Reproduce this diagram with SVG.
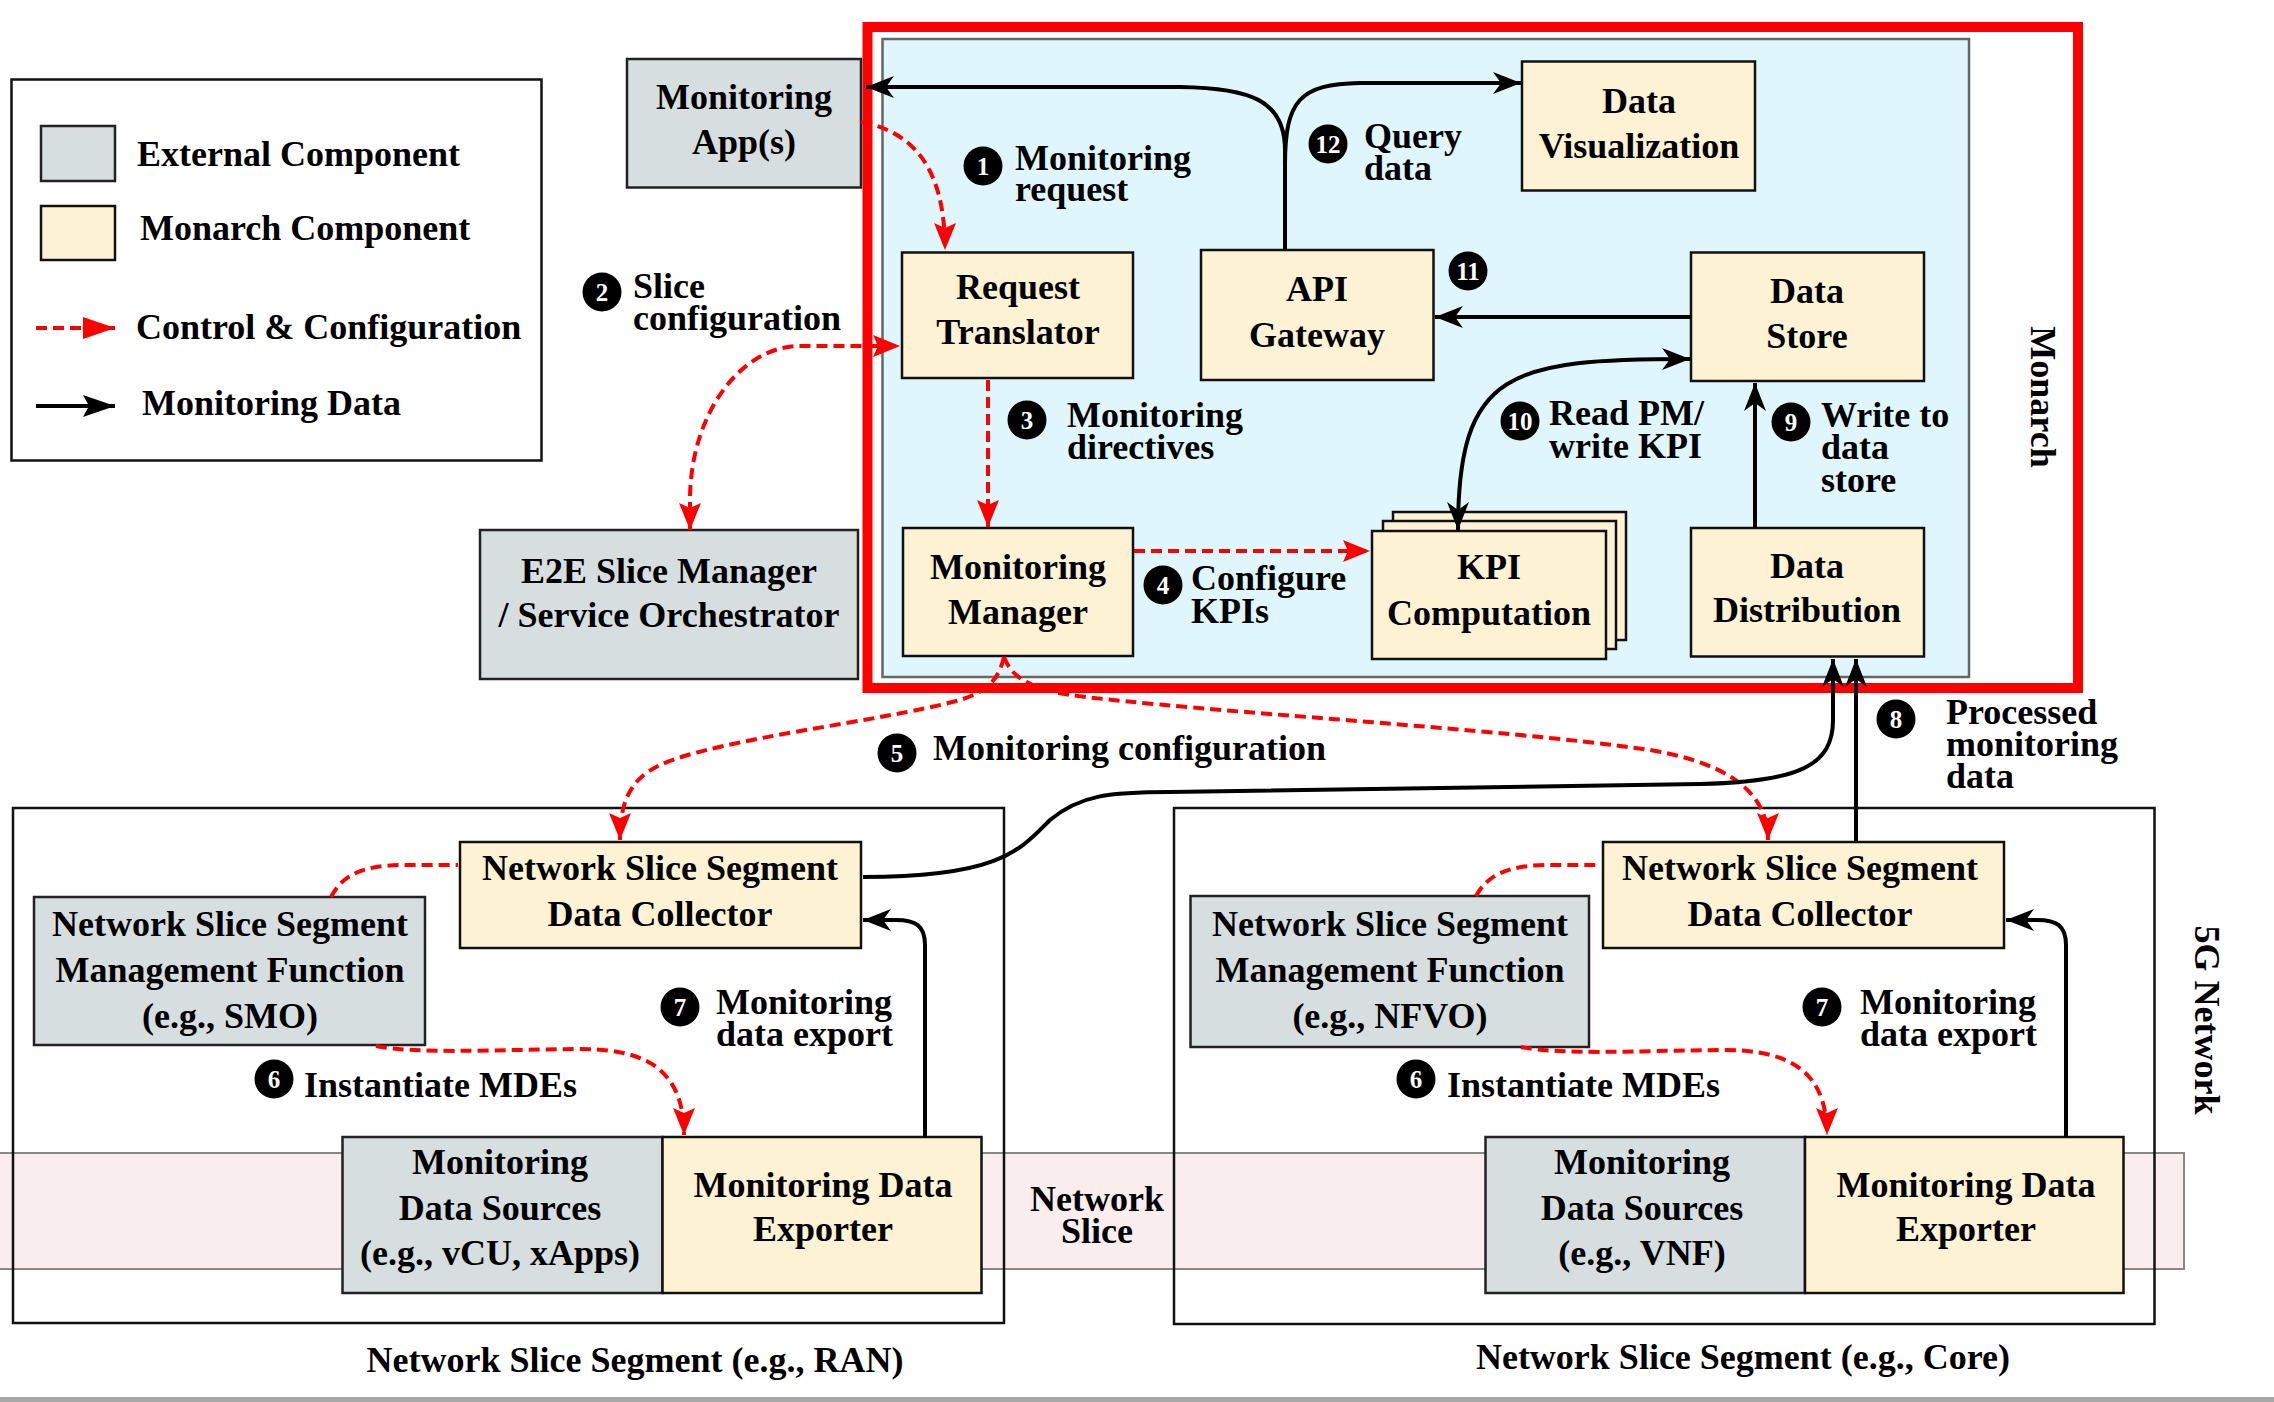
<svg xmlns="http://www.w3.org/2000/svg" width="2274" height="1402" viewBox="0 0 2274 1402">
<style>
.t{font-family:"Liberation Serif","Times New Roman",serif;font-weight:bold;font-size:36px;fill:#000}
.c{text-anchor:middle}
.ext{fill:#d6dee0;stroke:#222;stroke-width:2.5}
.mon{fill:#fdf2d4;stroke:#111;stroke-width:2.5}
.seg{fill:none;stroke:#111;stroke-width:2.5}
.red{fill:none;stroke:#ff0000;stroke-width:4;stroke-dasharray:11 6}
.blk{fill:none;stroke:#000;stroke-width:4}
.num{font-family:"Liberation Serif","Times New Roman",serif;font-weight:bold;font-size:25px;fill:#fff;text-anchor:middle}
</style>
<defs>
<marker id="ab" viewBox="-30 -14 32 28" refX="0" refY="0" markerWidth="32" markerHeight="28" markerUnits="userSpaceOnUse" orient="auto-start-reverse"><path d="M0,0 L-28,-11 L-20,0 L-28,11 Z" fill="#000"/></marker>
<marker id="ar" viewBox="-30 -14 32 28" refX="0" refY="0" markerWidth="32" markerHeight="28" markerUnits="userSpaceOnUse" orient="auto-start-reverse"><path d="M0,0 L-27,-11 L-22,0 L-27,11 Z" fill="#ff0000"/></marker>
<marker id="lr" viewBox="-34 -14 36 28" refX="0" refY="0" markerWidth="36" markerHeight="28" markerUnits="userSpaceOnUse" orient="auto"><path d="M0,0 L-32,-11 L-32,11 Z" fill="#ff0000"/></marker>
<marker id="lb" viewBox="-34 -14 36 28" refX="0" refY="0" markerWidth="36" markerHeight="28" markerUnits="userSpaceOnUse" orient="auto"><path d="M0,0 L-32,-11 L-26,0 L-32,11 Z" fill="#000"/></marker>
</defs>
<rect x="0" y="0" width="2274" height="1402" fill="#fff"/>

<!-- Network slice band -->
<rect id="band" x="-2" y="1153" width="2186" height="116" fill="#faeded" stroke="#888" stroke-width="2"/>

<!-- Legend -->
<g id="legend">
<rect x="11.5" y="79.5" width="530" height="381" fill="#fff" stroke="#111" stroke-width="2.5"/>
<rect x="41" y="126" width="74" height="55" class="ext"/>
<rect x="41" y="206" width="74" height="54" class="mon"/>
<text class="t" x="137" y="166">External Component</text>
<text class="t" x="140" y="240">Monarch Component</text>
<path d="M36,328 L115,328" class="red" stroke-dasharray="11 6" marker-end="url(#lr)"/>
<text class="t" x="136" y="339">Control &amp; Configuration</text>
<path d="M36,406 L115,406" class="blk" marker-end="url(#lb)"/>
<text class="t" x="142" y="415">Monitoring Data</text>
</g>

<!-- Monarch container -->
<g id="monarch">
<rect x="867.5" y="27" width="1210.5" height="661" fill="#fff" stroke="#ff0000" stroke-width="10"/>
<rect x="882.5" y="39" width="1086.5" height="638" fill="#dff6fc" stroke="#666" stroke-width="2.5"/>
<text class="t c" transform="translate(2031,397) rotate(90)">Monarch</text>
</g>

<!-- Segment containers -->
<g id="seg-ran">
<rect x="13" y="808" width="991" height="515" class="seg"/>
<text class="t c" x="635" y="1372">Network Slice Segment (e.g., RAN)</text>
</g>
<g id="seg-core">
<rect x="1174" y="808" width="980.5" height="516" class="seg"/>
<text class="t c" x="1743" y="1369">Network Slice Segment (e.g., Core)</text>
</g>
<g id="network-slice-label">
<text class="t c" x="1097" y="1211">Network</text>
<text class="t c" x="1097" y="1243">Slice</text>
</g>
<text id="fiveg" class="t c" transform="translate(2195,1020) rotate(90)">5G Network</text>

<!-- Nodes -->
<g id="monitoring-apps">
<rect x="627" y="59" width="234" height="128.5" class="ext"/>
<text class="t c" x="744" y="109">Monitoring</text>
<text class="t c" x="744" y="154">App(s)</text>
</g>
<g id="e2e">
<rect x="480" y="530" width="378" height="149" class="ext"/>
<text class="t c" x="669" y="583">E2E Slice Manager</text>
<text class="t c" x="669" y="627">/ Service Orchestrator</text>
</g>
<g id="request-translator">
<rect x="902" y="252.5" width="231" height="125.5" class="mon"/>
<text class="t c" x="1018" y="298.5">Request</text>
<text class="t c" x="1018" y="343.5">Translator</text>
</g>
<g id="api-gateway">
<rect x="1201" y="250" width="232.5" height="130" class="mon"/>
<text class="t c" x="1317" y="301">API</text>
<text class="t c" x="1317" y="346.5">Gateway</text>
</g>
<g id="data-visualization">
<rect x="1522" y="61.5" width="233" height="129" class="mon"/>
<text class="t c" x="1639" y="112.5">Data</text>
<text class="t c" x="1639" y="157.5">Visualization</text>
</g>
<g id="data-store">
<rect x="1691" y="252.5" width="233" height="128.5" class="mon"/>
<text class="t c" x="1807" y="303">Data</text>
<text class="t c" x="1807" y="348">Store</text>
</g>
<g id="monitoring-manager">
<rect x="903" y="528" width="230" height="128" class="mon"/>
<text class="t c" x="1018" y="578.5">Monitoring</text>
<text class="t c" x="1018" y="624">Manager</text>
</g>
<g id="kpi-computation">
<rect x="1393" y="512" width="233" height="128" class="mon"/>
<rect x="1383" y="521" width="233" height="128" class="mon"/>
<rect x="1372" y="531" width="234" height="128" class="mon"/>
<text class="t c" x="1489" y="579">KPI</text>
<text class="t c" x="1489" y="625">Computation</text>
</g>
<g id="data-distribution">
<rect x="1691" y="528" width="233" height="128.5" class="mon"/>
<text class="t c" x="1807" y="577.6">Data</text>
<text class="t c" x="1807" y="622">Distribution</text>
</g>

<g id="dc-ran">
<rect x="460" y="842" width="401" height="106" class="mon"/>
<text class="t c" x="660" y="880">Network Slice Segment</text>
<text class="t c" x="660" y="926">Data Collector</text>
</g>
<g id="mf-ran">
<rect x="34" y="897" width="391" height="148" class="ext"/>
<text class="t c" x="230" y="936">Network Slice Segment</text>
<text class="t c" x="230" y="982">Management Function</text>
<text class="t c" x="230" y="1028">(e.g., SMO)</text>
</g>
<g id="mds-ran">
<rect x="342.5" y="1137" width="320" height="156" class="ext"/>
<text class="t c" x="500" y="1174">Monitoring</text>
<text class="t c" x="500" y="1220">Data Sources</text>
<text class="t c" x="500" y="1265">(e.g., vCU, xApps)</text>
</g>
<g id="mde-ran">
<rect x="662.5" y="1137" width="319" height="156" class="mon"/>
<text class="t c" x="823" y="1197">Monitoring Data</text>
<text class="t c" x="823" y="1241">Exporter</text>
</g>

<g id="dc-core">
<rect x="1603" y="842" width="401" height="106" class="mon"/>
<text class="t c" x="1800" y="880">Network Slice Segment</text>
<text class="t c" x="1800" y="926">Data Collector</text>
</g>
<g id="mf-core">
<rect x="1190.5" y="896" width="398.5" height="151" class="ext"/>
<text class="t c" x="1390" y="936">Network Slice Segment</text>
<text class="t c" x="1390" y="982">Management Function</text>
<text class="t c" x="1390" y="1028">(e.g., NFVO)</text>
</g>
<g id="mds-core">
<rect x="1485.5" y="1137" width="319.5" height="156" class="ext"/>
<text class="t c" x="1642" y="1174">Monitoring</text>
<text class="t c" x="1642" y="1220">Data Sources</text>
<text class="t c" x="1642" y="1265">(e.g., VNF)</text>
</g>
<g id="mde-core">
<rect x="1805" y="1137" width="318.5" height="156" class="mon"/>
<text class="t c" x="1966" y="1197">Monitoring Data</text>
<text class="t c" x="1966" y="1241">Exporter</text>
</g>

<!-- Connectors -->
<g id="connectors">
<!-- control (red dashed) -->
<path class="red" d="M861,122 C915,132 945,170 945,250" marker-end="url(#ar)"/>
<path class="red" d="M690,530 L690,500 C690,415 740,346 800,346 L900,346" marker-start="url(#ar)" marker-end="url(#ar)"/>
<path class="red" d="M988,380 L988,527" marker-end="url(#ar)"/>
<path class="red" d="M1134,551 L1370,551" marker-end="url(#ar)"/>
<path class="red" d="M1004,657 C998,682 985,692 960,700 C880,722 720,738 660,765 C628,780 620,805 620,840" marker-end="url(#ar)"/>
<path class="red" d="M1004,657 C1012,678 1030,688 1070,695 C1200,712 1500,728 1650,750 C1740,765 1768,800 1768,840" marker-end="url(#ar)"/>
<path class="red" d="M331,897 C342,876 360,866 400,865 L458,865"/>
<path class="red" d="M376,1046 C420,1054 480,1050 580,1049 C640,1049 684,1065 684,1135" marker-end="url(#ar)"/>
<path class="red" d="M1476,896 C1487,876 1505,866 1545,865 L1601,865"/>
<path class="red" d="M1521,1047 C1565,1055 1625,1051 1723,1050 C1783,1050 1827,1066 1827,1135" marker-end="url(#ar)"/>
<!-- monitoring data (black) -->
<path class="blk" d="M1285,250 L1285,150 C1285,100 1250,88 1180,87 L866,87" marker-end="url(#ab)"/>
<path class="blk" d="M1285,165 C1285,100 1300,84 1360,83 L1521,83" marker-end="url(#ab)"/>
<path class="blk" d="M1691,317 L1435,317" marker-end="url(#ab)"/>
<path class="blk" d="M1755,528 L1755,383" marker-end="url(#ab)"/>
<path class="blk" d="M1458,530 C1458,370 1510,359 1690,359" marker-start="url(#ab)" marker-end="url(#ab)"/>
<path class="blk" d="M863,877 C1000,877 1020,850 1050,820 C1080,795 1110,792 1170,792 L1700,784 C1800,782 1833,765 1833,720 L1833,659" marker-end="url(#ab)"/>
<path class="blk" d="M1856,842 L1856,659" marker-end="url(#ab)"/>
<path class="blk" d="M925,1137 L925,945 C925,926 916,920 896,920 L863,920" marker-end="url(#ab)"/>
<path class="blk" d="M2066,1137 L2066,945 C2066,926 2057,920 2037,920 L2006,920" marker-end="url(#ab)"/>
</g>

<!-- Step labels -->
<g id="labels">
<circle cx="983" cy="166" r="19.5"/><text class="num" x="983" y="175">1</text>
<text class="t" x="1015" y="170">Monitoring</text><text class="t" x="1015" y="201">request</text>
<circle cx="602" cy="292" r="19.5"/><text class="num" x="602" y="301">2</text>
<text class="t" x="633" y="298">Slice</text><text class="t" x="633" y="330">configuration</text>
<circle cx="1027" cy="420" r="19.5"/><text class="num" x="1027" y="429">3</text>
<text class="t" x="1067" y="427">Monitoring</text><text class="t" x="1067" y="459">directives</text>
<circle cx="1163" cy="585" r="19.5"/><text class="num" x="1163" y="594">4</text>
<text class="t" x="1191" y="590">Configure</text><text class="t" x="1191" y="623">KPIs</text>
<circle cx="897" cy="753" r="19.5"/><text class="num" x="897" y="762">5</text>
<text class="t" x="933" y="760">Monitoring configuration</text>
<circle cx="274" cy="1079" r="19.5"/><text class="num" x="274" y="1088">6</text>
<text class="t" x="304" y="1097">Instantiate MDEs</text>
<circle cx="680" cy="1007" r="19.5"/><text class="num" x="680" y="1016">7</text>
<text class="t" x="716" y="1014">Monitoring</text><text class="t" x="716" y="1046">data export</text>
<circle cx="1416" cy="1079" r="19.5"/><text class="num" x="1416" y="1088">6</text>
<text class="t" x="1447" y="1097">Instantiate MDEs</text>
<circle cx="1822" cy="1007" r="19.5"/><text class="num" x="1822" y="1016">7</text>
<text class="t" x="1860" y="1014">Monitoring</text><text class="t" x="1860" y="1046">data export</text>
<circle cx="1896" cy="719" r="19.5"/><text class="num" x="1896" y="728">8</text>
<text class="t" x="1946" y="724">Processed</text><text class="t" x="1946" y="756">monitoring</text><text class="t" x="1946" y="788">data</text>
<circle cx="1791" cy="422" r="19.5"/><text class="num" x="1791" y="431">9</text>
<text class="t" x="1821" y="427">Write to</text><text class="t" x="1821" y="459">data</text><text class="t" x="1821" y="492">store</text>
<circle cx="1520" cy="421" r="19.5"/><text class="num" x="1520" y="430">10</text>
<text class="t" x="1549" y="425">Read PM/</text><text class="t" x="1549" y="458">write KPI</text>
<circle cx="1468" cy="271" r="19.5"/><text class="num" x="1468" y="280">11</text>
<circle cx="1328" cy="144" r="19.5"/><text class="num" x="1328" y="153">12</text>
<text class="t" x="1364" y="148">Query</text><text class="t" x="1364" y="180">data</text>
</g>
<rect x="0" y="1397" width="2274" height="5" fill="#a8a8a8"/>
</svg>
